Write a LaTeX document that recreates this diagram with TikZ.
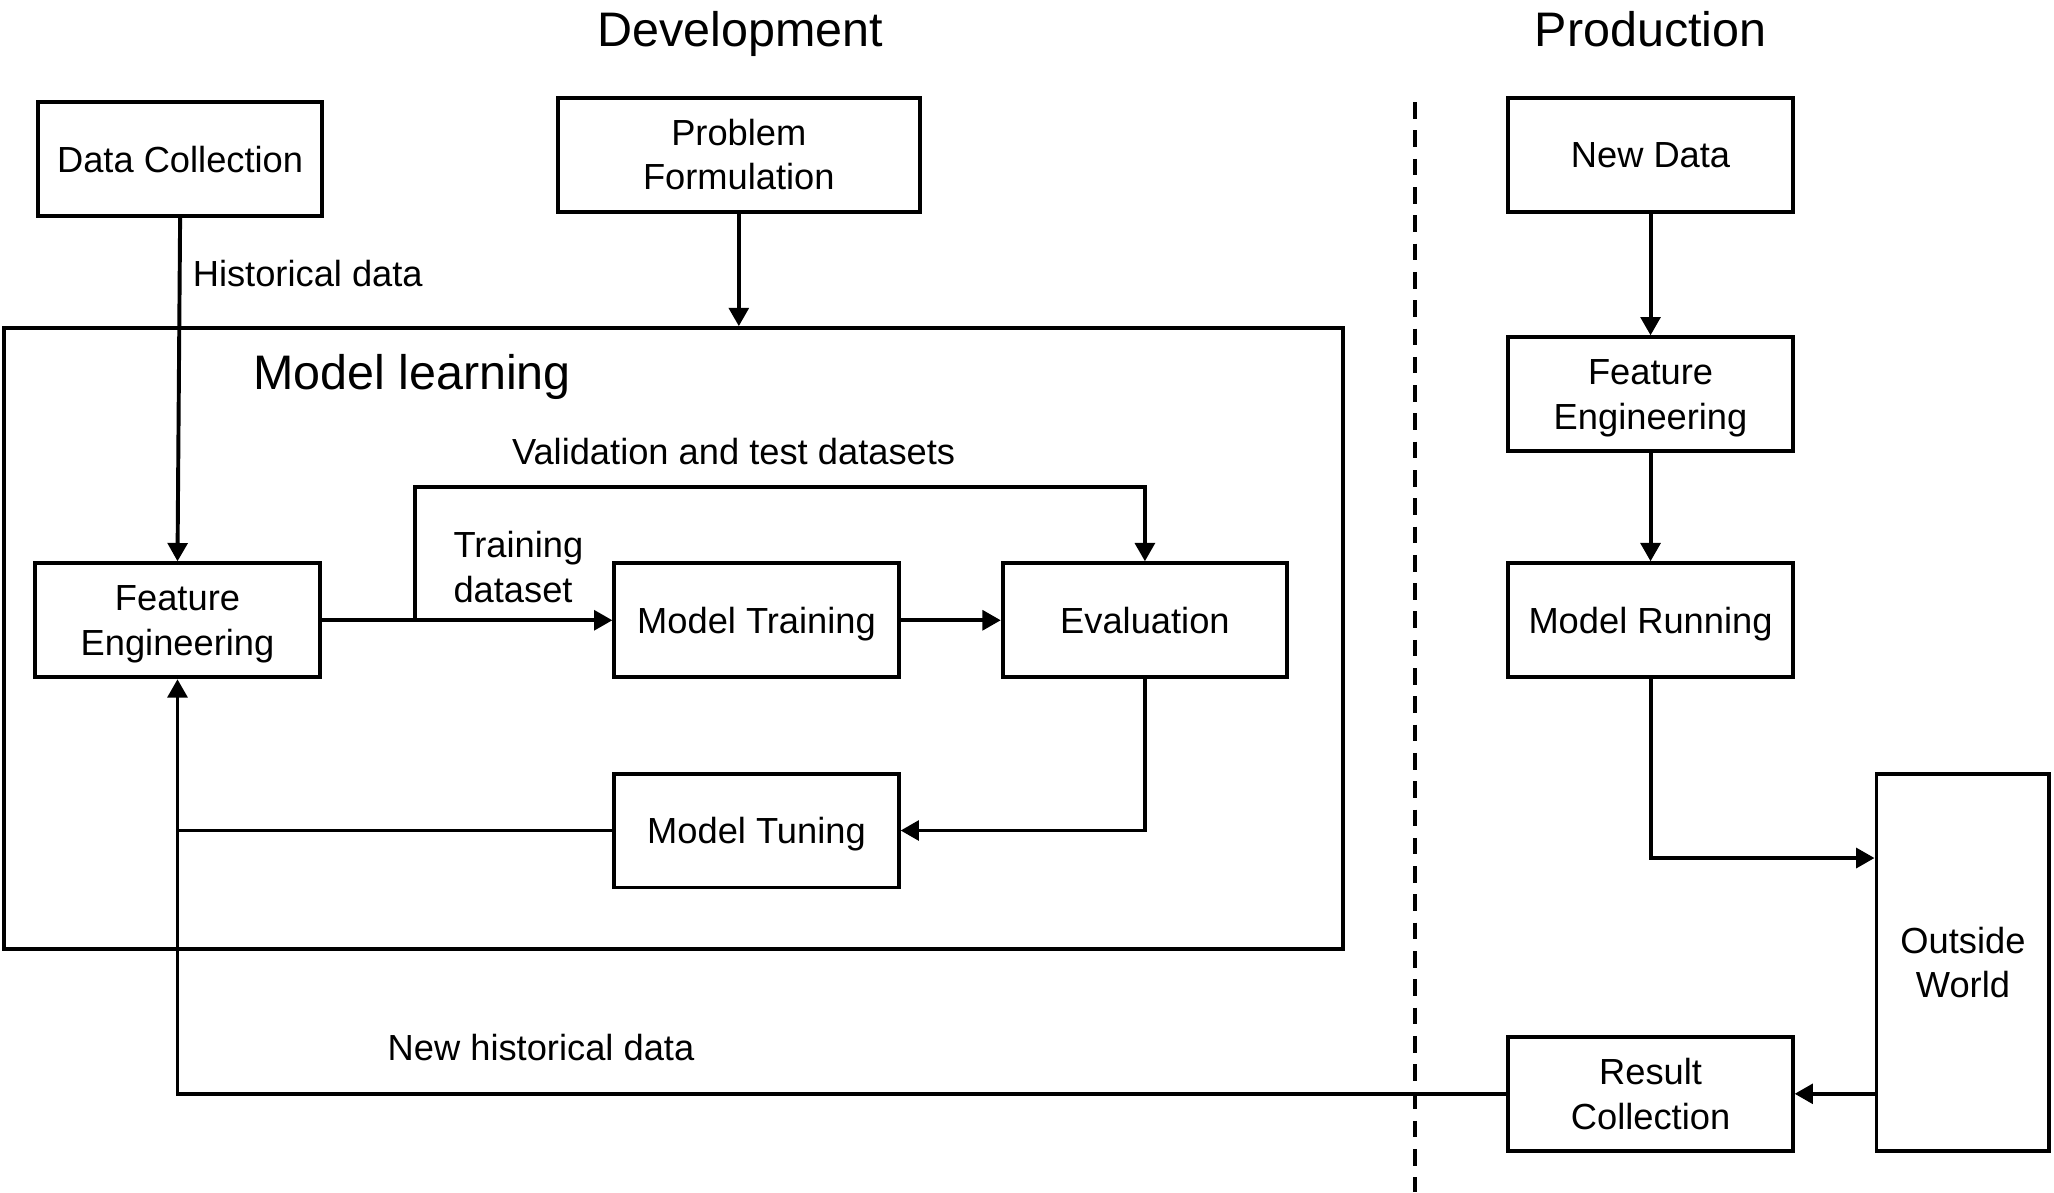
\documentclass[tikz,border=0pt]{standalone}
\usepackage{fontspec}
\setmainfont{Liberation Sans}
\usetikzlibrary{arrows.meta}
\begin{document}
\begin{tikzpicture}[x=1pt,y=-1pt,
  box/.style={draw, line width=3pt, minimum width=217pt, minimum height=87pt, align=center, inner sep=0pt, text depth=0pt, font=\fontsize{27.7}{34}\selectfont},
  lbl/.style={inner sep=0pt, font=\fontsize{27.7}{34}\selectfont},
  ttl/.style={inner sep=0pt, text depth=0pt, font=\fontsize{37}{44}\selectfont},
  conn/.style={line width=3pt, -{Triangle[length=14pt,width=15pt]}},
  plainline/.style={line width=3pt},
]
\useasboundingbox (0,0) rectangle (1568,910);

% titles
\node[ttl] (dev) at (565,22) {Development};
\node[ttl] (prod) at (1260,22) {Production};

% development
\node[box] (dc) at (137.5,121.5) {Data Collection};
\node[box, minimum width=276pt] (pf) at (564,118) {Problem\\Formulation};
\node[draw, line width=3pt, minimum width=1022pt, minimum height=474pt, inner sep=0pt] (ml) at (514,487.5) {};
\node[ttl, anchor=west] (mltxt) at (193,284) {Model learning};
\node[lbl, anchor=west] (hist) at (147,209) {Historical data};

\node[box] (fe) at (135.5,473.5) {Feature\\Engineering};
\node[box] (mt) at (577.5,473.5) {Model Training};
\node[box] (ev) at (874,473.5) {Evaluation};
\node[box] (tu) at (577.5,634) {Model Tuning};

\node[lbl] (val) at (560,345) {Validation and test datasets};
\node[lbl, anchor=west, align=left] (trn) at (346,433) {Training\\dataset};
\node[lbl] (nhist) at (413,800) {New historical data};

\coordinate (br) at (317,473.5);
\coordinate (vt) at (317,372);

\draw[conn] (dc.south) -- (fe.north);
\draw[conn] (pf.south) -- (pf.south |- ml.north);
\draw[conn] (fe.east) -- (mt.west);
\draw[conn] (br) -- (vt) -| (ev.north);
\draw[conn] (mt.east) -- (ev.west);
\draw[conn] (ev.south) |- (tu.east);
\draw[plainline] (tu.west) -- (tu.west -| fe.south);

% separator
\draw[line width=3pt, dash pattern=on 12.7pt off 8.9pt] (1080,78) -- (1080,910);

% production
\node[box] (nd) at (1260,118) {New Data};
\node[box] (fe2) at (1260,301) {Feature\\Engineering};
\node[box] (mr) at (1260,473.5) {Model Running};
\node[box, minimum width=132pt, minimum height=288pt] (ow) at (1498.5,734.5) {Outside\\World};
\node[box] (rc) at (1260,835) {Result\\Collection};

\coordinate (lvl) at (0,655);
\draw[conn] (nd.south) -- (fe2.north);
\draw[conn] (fe2.south) -- (mr.north);
\draw[conn] (mr.south) |- (ow.west |- lvl);
\draw[conn] (ow.west |- rc.east) -- (rc.east);
\draw[conn] (rc.west) -- (rc.west -| fe.south) -- (fe.south);
\end{tikzpicture}
\end{document}
